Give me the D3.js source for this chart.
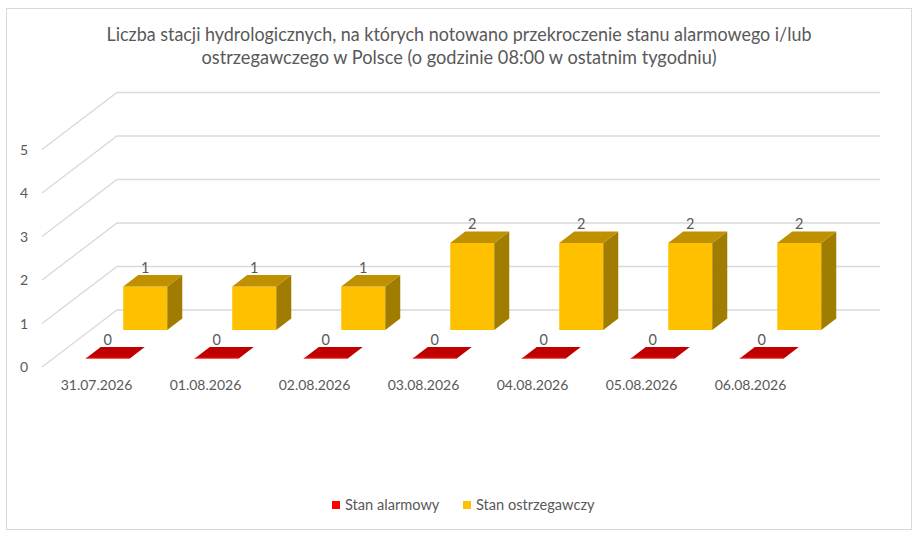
<!DOCTYPE html>
<html>
<head>
<meta charset="utf-8">
<script src="https://cdn.jsdelivr.net/npm/d3@7"></script>
<style>
	html, body { margin: 0; padding: 0; background: #fff; }
	text { font-family: Lato, "Open Sans", sans-serif; fill: #595959; }
</style>
</head>
<body>
<svg id="chart" width="919" height="535"></svg>
<script>
	// dane wykresu
	var dates = ['31.07.2026', '01.08.2026', '02.08.2026', '03.08.2026', '04.08.2026', '05.08.2026', '06.08.2026'];
	var alarmowy = [0, 0, 0, 0, 0, 0, 0];
	var ostrzegawczy = [1, 1, 1, 2, 2, 2, 2];
	var seriesNames = ['Stan alarmowy', 'Stan ostrzegawczy'];
	var yTicks = [0, 1, 2, 3, 4, 5];
	var titleLines = [
		'Liczba stacji hydrologicznych, na których notowano przekroczenie stanu alarmowego i/lub',
		'ostrzegawczego w Polsce (o godzinie 08:00 w ostatnim tygodniu)'
	];

	var svg = d3.select('#chart');

	// rzut ukośny: przód wykresu, wektor głębokości
	var floorY = 367;
	var depthX = 75, depthY = -57;

	var x = d3.scaleBand().domain(dates).range([42, 805]).paddingInner(0.596).paddingOuter(0.298);
	var y = d3.scaleLinear().domain([0, 5]).range([0, 217.5]);
	var z = d3.scaleBand().domain(seriesNames).range([0, 1]).paddingInner(0.6).paddingOuter(0.3);

	function proj(px, t, v){
		return [px + depthX * t, floorY + depthY * t - y(v)];
	}
	function poly(pts){
		return pts.map(function(p){ return p[0].toFixed(2) + ',' + p[1].toFixed(2); }).join(' ');
	}

	// ramka
	svg.append('rect')
		.attr('x', 6.5).attr('y', 8.5).attr('width', 905).attr('height', 521)
		.attr('fill', '#fff').attr('stroke', '#d9d9d9').attr('stroke-width', 1);

	// tytuł
	svg.selectAll('text.title').data(titleLines).enter().append('text')
		.attr('class', 'title')
		.attr('x', 459).attr('y', function(d, i){ return 41 + i * 23; })
		.attr('text-anchor', 'middle')
		.attr('font-size', '18.5px')
		.attr('textLength', function(d, i){ return i == 0 ? 705 : 515; })
		.attr('lengthAdjust', 'spacingAndGlyphs')
		.text(function(d){ return d; });

	// linie siatki (ściana boczna + tylna)
	var grid = svg.append('g');
	yTicks.forEach(function(v){
		var a = proj(42, 0, v), b = proj(42, 1, v), c = proj(805, 1, v);
		grid.append('polyline')
			.attr('points', poly([a, b, c]))
			.attr('fill', 'none')
			.attr('stroke', '#d9d9d9')
			.attr('stroke-width', 1.3);
	});

	// etykiety osi Y
	svg.selectAll('text.ytick').data(yTicks).enter().append('text')
		.attr('class', 'ytick')
		.attr('x', 24)
		.attr('y', function(d){ return proj(42, 0, d)[1] + 5; })
		.attr('text-anchor', 'middle')
		.attr('font-size', '14px')
		.text(function(d){ return d; });

	// etykiety osi X
	svg.selectAll('text.xtick').data(dates).enter().append('text')
		.attr('class', 'xtick')
		.attr('x', function(d){ return x(d) + x.bandwidth() / 2; })
		.attr('y', 390)
		.attr('text-anchor', 'middle')
		.attr('font-size', '14px')
		.text(function(d){ return d; });

	// słupki 3D
	var series = [
		{name: seriesNames[1], values: ostrzegawczy, front: '#FFC000', top: '#BF9000', side: '#A07D00', edge: null},
		{name: seriesNames[0], values: alarmowy, front: '#C00000', top: '#C00000', side: '#900000', edge: '#FF5050'}
	];

	series.forEach(function(s){
		var t0 = z(s.name), t1 = t0 + z.bandwidth();
		var g = svg.append('g');
		s.values.forEach(function(v, i){
			var x0 = x(dates[i]), x1 = x0 + x.bandwidth();
			if(v > 0){
				g.append('polygon')
					.attr('points', poly([proj(x0, t0, 0), proj(x1, t0, 0), proj(x1, t0, v), proj(x0, t0, v)]))
					.attr('fill', s.front);
				g.append('polygon')
					.attr('points', poly([proj(x1, t0, 0), proj(x1, t1, 0), proj(x1, t1, v), proj(x1, t0, v)]))
					.attr('fill', s.side);
			}
			g.append('polygon')
				.attr('points', poly([proj(x0, t0, v), proj(x1, t0, v), proj(x1, t1, v), proj(x0, t1, v)]))
				.attr('fill', s.top);
			if(v == 0 && s.edge){
				var a = proj(x0, t0, 0), b = proj(x1, t0, 0);
				g.append('line')
					.attr('x1', a[0]).attr('y1', a[1]).attr('x2', b[0]).attr('y2', b[1])
					.attr('stroke', s.edge).attr('stroke-width', 1.2);
			}
			// etykieta wartości
			var lp = proj((x0 + x1) / 2, t0, v);
			var lb = proj(x0, t1, v);
			g.append('text')
				.attr('x', lp[0])
				.attr('y', lb[1] - 2.5)
				.attr('text-anchor', 'middle')
				.attr('font-size', '14.5px')
				.text(v);
		});
	});

	// legenda
	var legend = svg.append('g');
	var legendItems = [
		{name: seriesNames[0], color: '#FF0000', x: 332},
		{name: seriesNames[1], color: '#FFC000', x: 463}
	];
	legendItems.forEach(function(d){
		legend.append('rect')
			.attr('x', d.x).attr('y', 501).attr('width', 8).attr('height', 8)
			.attr('fill', d.color);
		legend.append('text')
			.attr('x', d.x + 13).attr('y', 510)
			.attr('font-size', '14.6px')
			.text(d.name);
	});
</script>
</body>
</html>
